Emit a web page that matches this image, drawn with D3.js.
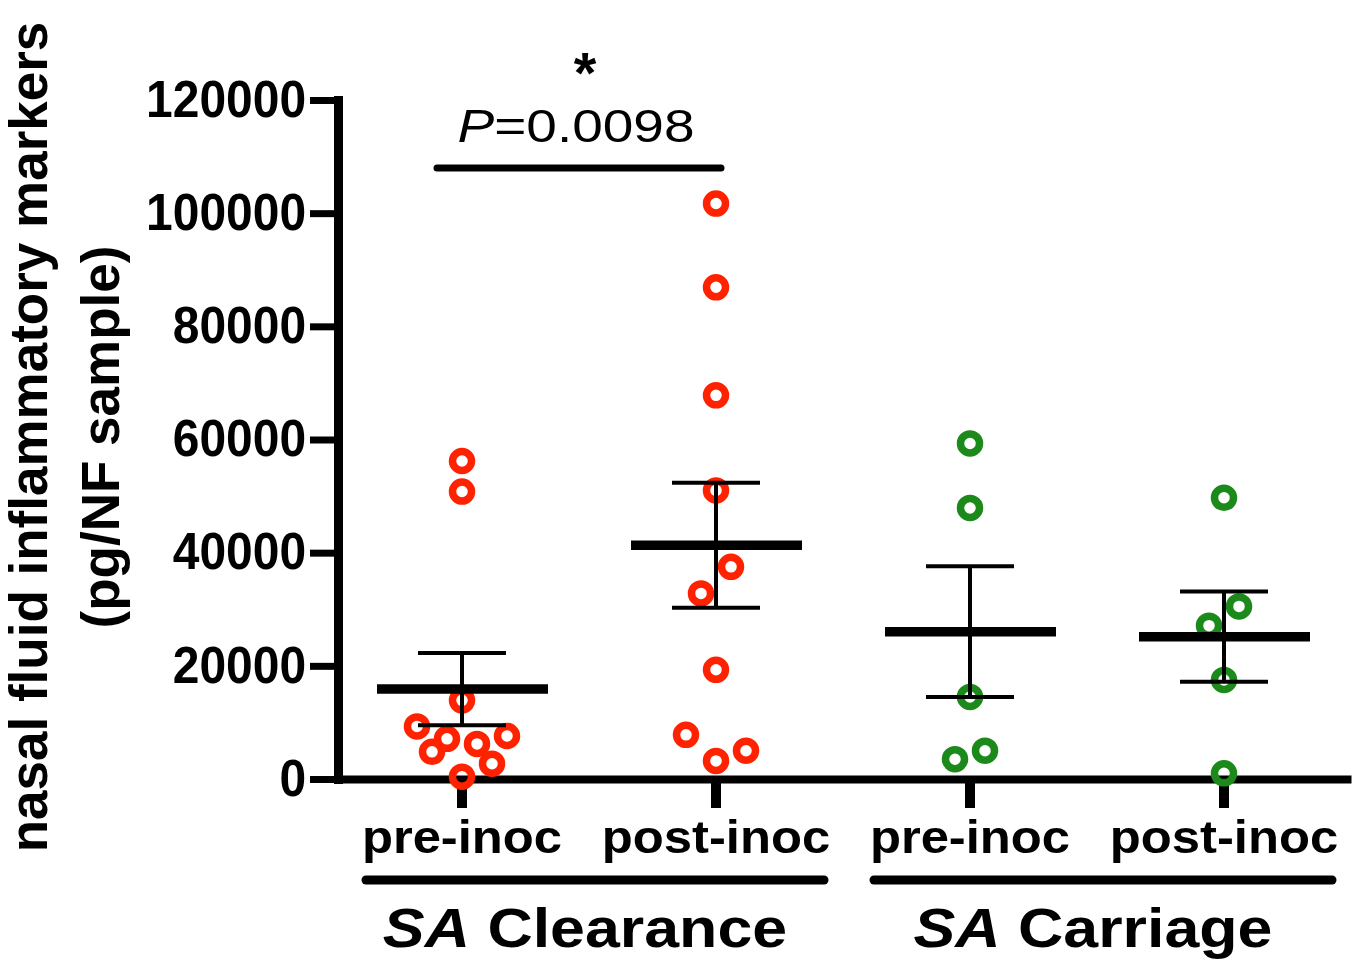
<!DOCTYPE html>
<html>
<head>
<meta charset="utf-8">
<script src="https://cdn.jsdelivr.net/npm/d3@7"></script>
<style>
  body { margin: 0; background: #fff; }
  text { font-family: "Liberation Sans", Arial, sans-serif; }
</style>
</head>
<body>
<div id="chart"></div>
<script>
// categories along the x axis
var categoryIds = ["clrPre", "clrPost", "carPre", "carPost"];
var categoryLabels = ["pre-inoc", "post-inoc", "pre-inoc", "post-inoc"];
var groupNames = ["Clearance", "Carriage"];

// values (pg/NF sample)
var clearancePre  = [56200, 50800, 13900, 9300, 7100, 4800, 6200, 7600, 2700, 400];
var clearancePost = [101700, 86900, 67800, 51000, 37500, 32800, 19300, 7800, 3200, 5000];
var carriagePre   = [59300, 47900, 14500, 3500, 5000];
var carriagePost  = [49700, 30500, 27100, 17500, 1000];

// horizontal scatter slot of each point (GraphPad style column spread)
var clearancePreSlot  = [0, 0, 0, -3, -1, -2, 1, 3, 2, 0];
var clearancePostSlot = [0, 0, 0, 0, 1, -1, 0, -2, 0, 2];
var carriagePreSlot   = [0, 0, 0, -1, 1];
var carriagePostSlot  = [0, 1, -1, 0, 0];

var yTicks = [0, 20000, 40000, 60000, 80000, 100000, 120000];
var pLabel = "=0.0098";
var sigLevel = 108000;

var columns = [
  {id: "clrPre",  values: clearancePre,  slots: clearancePreSlot,  color: "#ff2200"},
  {id: "clrPost", values: clearancePost, slots: clearancePostSlot, color: "#ff2200"},
  {id: "carPre",  values: carriagePre,   slots: carriagePreSlot,   color: "#1b8a1b"},
  {id: "carPost", values: carriagePost,  slots: carriagePostSlot,  color: "#1b8a1b"}
];

var W = 1362, H = 965;
var svg = d3.select("#chart").append("svg")
  .attr("width", W).attr("height", H);

var x = d3.scaleBand().domain(categoryIds).range([335, 1351]);
var y = d3.scaleLinear().domain([0, 120000]).range([779, 100]);
var cx = function(id) { return x(id) + x.bandwidth() / 2; };
var slotW = 15;

// y axis
var yAxis = svg.append("g")
  .attr("transform", "translate(338,0)")
  .call(d3.axisLeft(y).tickValues(yTicks).tickSize(28).tickSizeOuter(0)
        .tickPadding(6).tickFormat(d3.format("d")));
yAxis.select(".domain").attr("stroke-width", 9).attr("stroke-linecap", "square");
yAxis.selectAll(".tick line").attr("stroke-width", 7);
yAxis.selectAll(".tick text")
  .attr("font-size", 51).attr("font-weight", "bold").attr("fill", "#000")
  .attr("font-family", "'Liberation Sans', Arial, sans-serif")
  .attr("transform", "scale(0.94,1)");

// x axis
var xAxis = svg.append("g")
  .attr("transform", "translate(0,779)")
  .call(d3.axisBottom(x).tickSize(29).tickSizeOuter(0)
        .tickFormat(function(d, i) { return categoryLabels[i]; }));
xAxis.select(".domain").attr("stroke-width", 8);
xAxis.selectAll(".tick line").attr("stroke-width", 10);
xAxis.selectAll(".tick text")
  .attr("y", 74).attr("dy", 0)
  .attr("font-size", 47).attr("font-weight", "bold").attr("fill", "#000")
  .attr("font-family", "'Liberation Sans', Arial, sans-serif")
  .attr("transform", "scale(1.08,1)");

// points
columns.forEach(function(col) {
  svg.append("g").selectAll("circle")
    .data(col.values)
    .enter().append("circle")
    .attr("cx", function(d, i) { return cx(col.id) + col.slots[i] * slotW; })
    .attr("cy", function(d) { return y(d); })
    .attr("r", 9.5)
    .attr("fill", "none")
    .attr("stroke", col.color)
    .attr("stroke-width", 7.5);
});

// mean and SEM
columns.forEach(function(col) {
  var m = d3.mean(col.values);
  var sem = d3.deviation(col.values) / Math.sqrt(col.values.length);
  var c = cx(col.id);
  var g = svg.append("g").attr("stroke", "#000");
  g.append("line").attr("x1", c).attr("x2", c)
    .attr("y1", y(m + sem)).attr("y2", y(m - sem)).attr("stroke-width", 4);
  [m + sem, m - sem].forEach(function(v) {
    g.append("line").attr("x1", c - 44).attr("x2", c + 44)
      .attr("y1", y(v)).attr("y2", y(v)).attr("stroke-width", 4);
  });
  g.append("line").attr("x1", c - 85).attr("x2", c + 86)
    .attr("y1", y(m)).attr("y2", y(m)).attr("stroke-width", 9.5);
});

// group brackets and labels
var groupCols = [["clrPre", "clrPost"], ["carPre", "carPost"]];
groupCols.forEach(function(pair, i) {
  var a = cx(pair[0]), b = cx(pair[1]);
  svg.append("line")
    .attr("x1", a - 96).attr("x2", b + 108)
    .attr("y1", 880).attr("y2", 880)
    .attr("stroke", "#000").attr("stroke-width", 9).attr("stroke-linecap", "round");
  var t = svg.append("text")
    .attr("text-anchor", "middle")
    .attr("font-size", 56).attr("font-weight", "bold")
    .attr("transform", "translate(" + ((a + b) / 2 - 4) + ",947) scale(1.12,1)");
  t.append("tspan").attr("font-style", "italic").text("SA");
  t.append("tspan").text(" " + groupNames[i]);
});

// significance bracket
var s1 = cx("clrPre"), s2 = cx("clrPost");
svg.append("line")
  .attr("x1", s1 - 25).attr("x2", s2 + 5)
  .attr("y1", y(sigLevel)).attr("y2", y(sigLevel))
  .attr("stroke", "#000").attr("stroke-width", 7).attr("stroke-linecap", "round");
var pt = svg.append("text")
  .attr("text-anchor", "middle")
  .attr("font-size", 47)
  .attr("transform", "translate(" + ((s1 + s2) / 2 - 13) + ",142) scale(1.17,1)");
pt.append("tspan").attr("font-style", "italic").text("P");
pt.append("tspan").text(pLabel);
svg.append("text")
  .attr("text-anchor", "middle")
  .attr("x", (s1 + s2) / 2 - 4).attr("y", 93)
  .attr("font-size", 58).attr("font-weight", "bold")
  .text("*");

// y axis title
var yt = svg.append("text")
  .attr("text-anchor", "middle")
  .attr("font-size", 53).attr("font-weight", "bold")
  .attr("transform", "translate(0,437) rotate(-90)");
yt.append("tspan").attr("x", 0).attr("y", 47).text("nasal fluid inflammatory markers");
yt.append("tspan").attr("x", 0).attr("y", 119).text("(pg/NF sample)");
</script>
</body>
</html>
